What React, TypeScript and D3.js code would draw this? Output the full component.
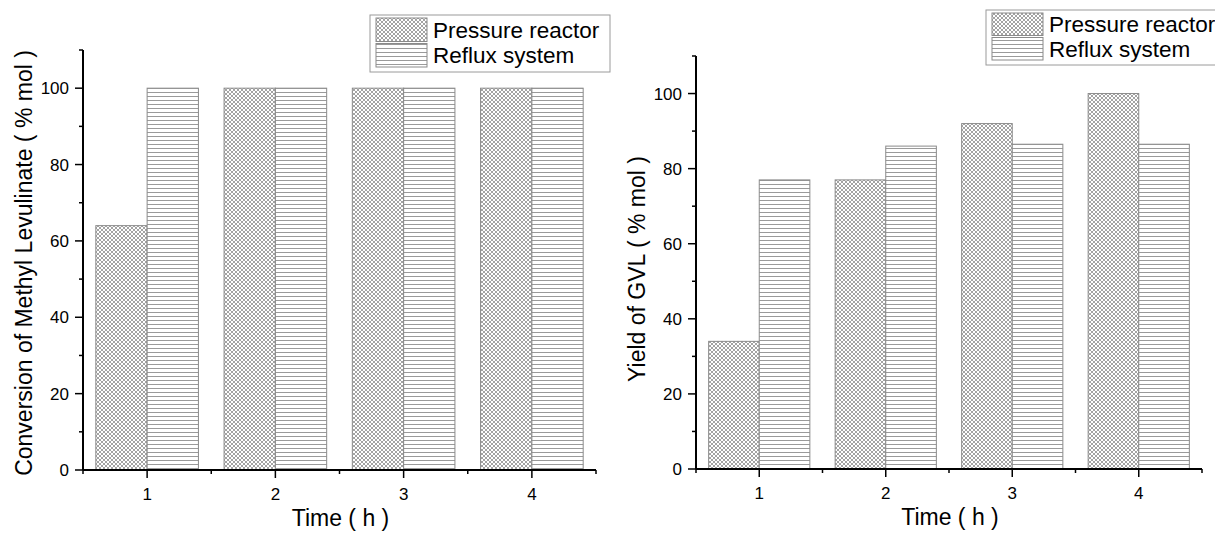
import React from "react";
import * as d3 from "d3";

const times = [1, 2, 3, 4];
const seriesNames = ["Pressure reactor", "Reflux system"];
const conversionPressure = [64, 100, 100, 100];
const conversionReflux = [100, 100, 100, 100];
const yieldPressure = [34, 77, 92, 100];
const yieldReflux = [77, 86, 86.5, 86.5];
const yMajorTicks = [0, 20, 40, 60, 80, 100];
const yMinorTicks = [10, 30, 50, 70, 90, 110];
const xMinorTicks = [0.5, 1.5, 2.5, 3.5, 4.5];
const xLabel = "Time ( h )";
const yLabelLeft = "Conversion of Methyl Levulinate ( % mol )";
const yLabelRight = "Yield of GVL ( % mol )";

const FONT = "Arial, 'Liberation Sans', sans-serif";

type PanelProps = {
  left: number; right: number; top: number; bottom: number;
  pressure: number[]; reflux: number[]; yLabel: string; yLabelX: number; yLabelY: number;
  legend: { x: number; y: number; w: number; h: number };
};

function Panel({ left, right, top, bottom, pressure, reflux, yLabel, yLabelX, yLabelY, legend }: PanelProps) {
  const x = d3.scaleLinear().domain([0.5, 4.5]).range([left, right]);
  const y = d3.scaleLinear().domain([0, 110]).range([bottom, top]);
  const bw = x(1.4) - x(1);
  const rowH = (legend.h - 6) / 2;
  return (
    <g>
      {times.map((t, i) => (
        <g key={t}>
          <rect x={x(t) - bw} y={y(pressure[i])} width={bw} height={y(0) - y(pressure[i])}
            fill="url(#cross)" stroke="#8a8a8a" strokeWidth={1} />
          <rect x={x(t)} y={y(reflux[i])} width={bw} height={y(0) - y(reflux[i])}
            fill="url(#hlines)" stroke="#8a8a8a" strokeWidth={1} />
        </g>
      ))}
      <line x1={left} x2={left} y1={top} y2={bottom} stroke="#000" strokeWidth={2} />
      <line x1={left} x2={right} y1={bottom} y2={bottom} stroke="#000" strokeWidth={2} />
      {yMajorTicks.map((v) => (
        <g key={"ym" + v}>
          <line x1={left - 8} x2={left} y1={y(v)} y2={y(v)} stroke="#000" strokeWidth={1.5} />
          <text x={left - 14} y={y(v) + 6} textAnchor="end" fontSize={17} fontFamily={FONT} fill="#000">{v}</text>
        </g>
      ))}
      {yMinorTicks.map((v) => (
        <line key={"yn" + v} x1={left - 4} x2={left} y1={y(v)} y2={y(v)} stroke="#000" strokeWidth={1.5} />
      ))}
      {times.map((t) => (
        <g key={"xm" + t}>
          <line x1={x(t)} x2={x(t)} y1={bottom} y2={bottom + 8} stroke="#000" strokeWidth={1.5} />
          <text x={x(t)} y={bottom + 30} textAnchor="middle" fontSize={17} fontFamily={FONT} fill="#000">{t}</text>
        </g>
      ))}
      {xMinorTicks.map((t) => (
        <line key={"xn" + t} x1={x(t)} x2={x(t)} y1={bottom} y2={bottom + 4} stroke="#000" strokeWidth={1.5} />
      ))}
      <text x={(left + right) / 2 + 1} y={bottom + 56} textAnchor="middle" fontSize={23} fontFamily={FONT} fill="#000">{xLabel}</text>
      <text transform={`translate(${yLabelX},${yLabelY}) rotate(-90)`} textAnchor="middle"
        fontSize={23} fontFamily={FONT} fill="#000">{yLabel}</text>
      <rect x={legend.x} y={legend.y} width={legend.w} height={legend.h} fill="#fff" stroke="#9a9a9a" strokeWidth={1} />
      {seriesNames.map((name, i) => (
        <g key={name}>
          <rect x={legend.x + 6} y={legend.y + 3 + i * rowH} width={51} height={rowH - 2}
            fill={i === 0 ? "url(#cross)" : "url(#hlines)"} stroke="#8a8a8a" strokeWidth={1} />
          <text x={legend.x + 63} y={legend.y + 3 + i * rowH + rowH / 2 + 7} fontSize={22.5} fontFamily={FONT} fill="#000">{name}</text>
        </g>
      ))}
    </g>
  );
}

export default function App() {
  return (
    <div style={{ position: "absolute", left: 0, top: 0 }}>
      <svg width={1215} height={537} style={{ display: "block", background: "#fff" }}>
        <defs>
          <pattern id="cross" patternUnits="userSpaceOnUse" width={4} height={4}>
            <rect width={4} height={4} fill="#fff" />
            <path d="M0,0 L4,4 M4,0 L0,4" stroke="#8c8c8c" strokeWidth={0.8} />
          </pattern>
          <pattern id="hlines" patternUnits="userSpaceOnUse" width={8} height={4}>
            <rect width={8} height={4} fill="#fff" />
            <line x1={0} x2={8} y1={0.5} y2={0.5} stroke="#9a9a9a" strokeWidth={1} />
          </pattern>
        </defs>
        <Panel left={83} right={596} top={50} bottom={470} pressure={conversionPressure} reflux={conversionReflux}
          yLabel={yLabelLeft} yLabelX={32} yLabelY={263} legend={{ x: 370, y: 15, w: 240, h: 57 }} />
        <Panel left={696} right={1202} top={56} bottom={469} pressure={yieldPressure} reflux={yieldReflux}
          yLabel={yLabelRight} yLabelX={645} yLabelY={269} legend={{ x: 986, y: 10, w: 240, h: 55 }} />
      </svg>
    </div>
  );
}
